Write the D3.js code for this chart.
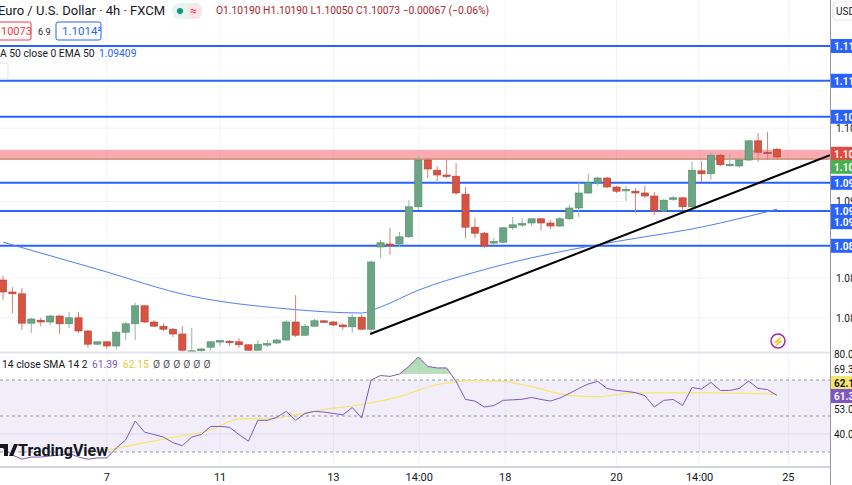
<!DOCTYPE html>
<html><head><meta charset="utf-8">
<script src="https://cdn.jsdelivr.net/npm/d3@7"></script>
<style>body{margin:0;background:#fff;font-family:Roboto,"Noto Sans",sans-serif}svg{display:block}</style>
</head><body>
<svg id="c" width="852" height="485"></svg>
<script>
const opens=[1.0825,1.0805,1.0802,1.0753,1.0758,1.0755,1.0765,1.0752,1.0762,1.0740,1.0718,1.0722,1.0715,1.0738,1.0752,1.0782,1.0755,1.0748,1.0743,1.0735,1.0705,1.0708,1.0713,1.0723,1.0723,1.0722,1.0717,1.0708,1.0718,1.0720,1.0725,1.0755,1.0733,1.0748,1.0757,1.0755,1.0750,1.0747,1.0763,1.0743,1.0880,1.0885,1.0885,1.0897,1.0947,1.1025,1.1008,1.1000,1.0998,1.0968,1.0913,1.0903,1.0888,1.0888,1.0912,1.0918,1.0920,1.0927,1.0920,1.0915,1.0927,1.0945,1.0970,1.0987,1.0995,1.0980,1.0975,1.0973,1.0970,1.0965,1.0940,1.0960,1.0962,1.0947,1.1007,1.1002,1.1033,1.1017,1.1015,1.1025,1.1057,1.1038,1.1043];
const closes=[1.0805,1.0802,1.0753,1.0760,1.0755,1.0765,1.0752,1.0762,1.0740,1.0718,1.0722,1.0715,1.0738,1.0752,1.0782,1.0755,1.0748,1.0743,1.0735,1.0708,1.0707,1.0710,1.0722,1.0724,1.0722,1.0717,1.0708,1.0718,1.0719,1.0725,1.0755,1.0733,1.0748,1.0757,1.0755,1.0750,1.0747,1.0763,1.0743,1.0855,1.0887,1.0883,1.0897,1.0947,1.1025,1.1010,1.1000,1.0998,1.0970,1.0913,1.0903,1.0882,1.0889,1.0912,1.0917,1.0919,1.0927,1.0920,1.0915,1.0927,1.0945,1.0970,1.0987,1.0995,1.0980,1.0973,1.0976,1.0970,1.0965,1.0940,1.0958,1.0962,1.0947,1.1008,1.1002,1.1033,1.1017,1.1018,1.1025,1.1057,1.1038,1.1037,1.1030];
const highs=[1.0832,1.0813,1.0812,1.0762,1.0762,1.0767,1.0767,1.0772,1.0772,1.0742,1.0723,1.0723,1.0740,1.0755,1.0787,1.0783,1.0758,1.0753,1.0745,1.0748,1.0745,1.0712,1.0723,1.0725,1.0725,1.0728,1.0718,1.0725,1.0725,1.0727,1.0758,1.0800,1.0752,1.0760,1.0758,1.0757,1.0752,1.0768,1.0768,1.0858,1.0892,1.0912,1.0905,1.0958,1.1032,1.1028,1.1015,1.1025,1.1020,1.0980,1.0928,1.0905,1.0895,1.0913,1.0930,1.0928,1.0928,1.0928,1.0925,1.0930,1.0950,1.0988,1.1002,1.0997,1.0997,1.0982,1.0982,1.0978,1.0982,1.0972,1.0960,1.0965,1.0963,1.1023,1.1023,1.1037,1.1035,1.1035,1.1028,1.1058,1.1070,1.1072,1.1045];
const lows=[1.0792,1.0770,1.0742,1.0737,1.0748,1.0750,1.0735,1.0745,1.0737,1.0712,1.0717,1.0710,1.0710,1.0725,1.0725,1.0753,1.0747,1.0740,1.0730,1.0707,1.0700,1.0705,1.0707,1.0715,1.0715,1.0712,1.0707,1.0707,1.0713,1.0718,1.0723,1.0730,1.0732,1.0747,1.0753,1.0748,1.0742,1.0737,1.0742,1.0738,1.0862,1.0867,1.0880,1.0895,1.0942,1.0995,1.0990,1.0995,1.0967,1.0895,1.0895,1.0878,1.0883,1.0887,1.0908,1.0913,1.0915,1.0908,1.0910,1.0913,1.0925,1.0930,1.0968,1.0982,1.0978,1.0970,1.0957,1.0937,1.0962,1.0933,1.0938,1.0957,1.0942,1.0945,1.0988,1.0992,1.1015,1.1013,1.1012,1.1023,1.1022,1.1025,1.1025];
const emaIdx=[0,10,20,30,38,40,44,50,56,62,68,73,76,82];
const emaVal=[1.0888,1.0843,1.0798,1.0777,1.0770,1.0780,1.0808,1.0838,1.0862,1.0881,1.0897,1.0910,1.0920,1.0943];
const levels=[1.1215,1.1157,1.1097,1.0987,1.0940,1.0882];
const levelLabels=["1.11","1.11","1.10","1.09","1.09","1.08"];
const zone=[1.1025,1.1042];
const trendIdx=[38.9,87.6], trendVal=[1.0735,1.1033];
const priceTicks=[1.1078,1.0956,1.0828,1.0762];
const priceTickLabels=["1.10","1.09","1.08","1.08"];
const rsi=[32.2,28.3,26,27.2,27.2,27.8,28.3,29.2,27.2,26,26.7,26.7,32.2,36.7,47.2,41,39.7,38.3,35.2,33.5,38.3,39.7,44.2,44.2,43.7,39.7,36,47.6,47.6,49.2,52.6,47.6,51.4,52.6,52.2,51.4,50.6,54.7,48.9,70,72.5,72,73.3,77.5,82.8,77.5,76.7,76.7,69.2,59.2,58.3,55,55.8,58.7,59,59.3,60.3,59.2,58.3,60,62.5,65.3,67.8,69.2,65.3,64.2,63.7,63,61.3,55,58.7,59.2,55.8,65.8,65,68.7,64.2,64.2,65.3,69.4,65.3,64.7,61.4];
const smaIdx=[11,17,22,25,28,31,34,38,42,46,50,53,56,60,63,67,75,82];
const smaVal=[31.1,37.2,42.2,48.4,48.6,50.6,53.6,56.4,60.8,67.5,69.7,69.2,66.3,61.5,60.8,62.8,62.8,62.15];
const rsiTicks=[80,69.3,53,40];
const rsiTickLabels=["80.0","69.3","53.0","40.0"];
const xTickIdx=[11,23,35,44.1,53.2,65,73.8,83.2];
const xTickLabels=["7","11","13","14:00","18","20","14:00","25"];

const svg=d3.select("#c");
const W=830;
const x=d3.scaleLinear().domain([0,82]).range([3,777]);
const y=d3.scaleLinear().domain([1.1,1.1100]).range([175,115]);
const ry=d3.scaleLinear().domain([30,80]).range([452,362]);
const GREEN="#6ba583", RED="#d75442", BLUE="#2962ff";

const g=svg.append("g");
xTickIdx.forEach(i=>g.append("line").attr("x1",x(i)).attr("x2",x(i)).attr("y1",0).attr("y2",467).attr("stroke","#f0f3fa"));
priceTicks.forEach(p=>g.append("line").attr("x1",0).attr("x2",W).attr("y1",y(p)).attr("y2",y(p)).attr("stroke","#f0f3fa"));
g.append("line").attr("x1",0).attr("x2",W).attr("y1",ry(40)).attr("y2",ry(40)).attr("stroke","#ebe8f3");

svg.append("defs").html('<clipPath id="mc"><rect x="0" y="0" width="830" height="352"/></clipPath><clipPath id="rc"><rect x="0" y="353" width="830" height="114"/></clipPath><clipPath id="ob"><rect x="0" y="340" width="830" height="34"/></clipPath><linearGradient id="gg" x1="0" y1="0" x2="0" y2="1"><stop offset="0" stop-color="#4caf50" stop-opacity="0.45"/><stop offset="1" stop-color="#4caf50" stop-opacity="0.05"/></linearGradient>');
const m=svg.append("g").attr("clip-path","url(#mc)");

m.append("rect").attr("x",0).attr("width",W).attr("y",y(zone[1])).attr("height",y(zone[0])-y(zone[1])).attr("fill","rgba(242,54,69,0.42)");
m.append("line").attr("x1",0).attr("x2",W).attr("y1",y(zone[0])-1).attr("y2",y(zone[0])-1).attr("stroke","#a08a4a").attr("stroke-width",1.2).attr("opacity",0.8);
levels.forEach(p=>m.append("line").attr("x1",0).attr("x2",W).attr("y1",y(p)).attr("y2",y(p)).attr("stroke",BLUE).attr("stroke-width",2));
const emaPts=emaIdx.map((i,k)=>[i,emaVal[k]]);
m.append("path").attr("d",d3.line().x(d=>x(d[0])).y(d=>y(d[1])).curve(d3.curveMonotoneX)(emaPts)).attr("fill","none").attr("stroke","#4f7ff5").attr("stroke-width",1);
const cg=m.append("g");
opens.forEach((o,i)=>{
  const c=closes[i], up=c>=o, col=up?GREEN:RED, stroke=up?"#4f8a68":"#b8402f";
  cg.append("line").attr("x1",x(i)).attr("x2",x(i)).attr("y1",y(highs[i])).attr("y2",y(lows[i])).attr("stroke",up?"#8fb9a0":"#d0837a").attr("stroke-width",1);
  const top=y(Math.max(o,c)), h=Math.max(1.5,Math.abs(y(o)-y(c)));
  cg.append("rect").attr("x",x(i)-3.6).attr("width",7.2).attr("y",top).attr("height",h).attr("fill",col).attr("stroke",stroke).attr("stroke-width",0.6);
});
m.append("line").attr("x1",x(trendIdx[0])).attr("y1",y(trendVal[0])).attr("x2",x(trendIdx[1])).attr("y2",y(trendVal[1])).attr("stroke","#000").attr("stroke-width",2);

svg.append("line").attr("x1",0).attr("x2",W).attr("y1",352.5).attr("y2",352.5).attr("stroke","#e0e3eb").attr("stroke-width",2);
svg.append("rect").attr("x",0).attr("width",W).attr("y",ry(70)).attr("height",ry(30)-ry(70)).attr("fill","rgba(126,87,194,0.1)");
[70,50,30].forEach(v=>svg.append("line").attr("x1",0).attr("x2",W).attr("y1",ry(v)).attr("y2",ry(v)).attr("stroke","#9598a1").attr("stroke-dasharray","3,3").attr("stroke-width",1));
const rg=svg.append("g").attr("clip-path","url(#rc)");
rg.append("path").attr("clip-path","url(#ob)").attr("d",d3.area().x((d,i)=>x(i)).y0(ry(70)).y1(d=>ry(d))(rsi)).attr("fill","url(#gg)");
rg.append("path").attr("d",d3.line().x(d=>x(d[0])).y(d=>ry(d[1])).curve(d3.curveMonotoneX)(smaIdx.map((i,k)=>[i,smaVal[k]]))).attr("fill","none").attr("stroke","#f5e56b").attr("stroke-width",1.2);
rg.append("path").attr("d",d3.line().x((d,i)=>x(i)).y(d=>ry(d))(rsi)).attr("fill","none").attr("stroke","#7e57c2").attr("stroke-width",1);

svg.append("line").attr("x1",0).attr("x2",W).attr("y1",467).attr("y2",467).attr("stroke","#d1d4dc").attr("stroke-width",2);
xTickIdx.forEach((i,k)=>svg.append("text").attr("x",x(i)).attr("y",481).attr("text-anchor","middle").attr("font-size",11).attr("fill","#131722").text(xTickLabels[k]));
svg.append("line").attr("x1",830.5).attr("x2",830.5).attr("y1",0).attr("y2",485).attr("stroke","#9598a1").attr("stroke-width",1);

const ax=svg.append("g").attr("font-size",10);
priceTicks.forEach((p,k)=>ax.append("text").attr("x",836).attr("y",y(p)+4).attr("fill","#131722").text(priceTickLabels[k]));
function box(yc,fill,txt,tc){ax.append("rect").attr("x",831).attr("y",yc-7).attr("width",30).attr("height",14).attr("fill",fill);
  ax.append("text").attr("x",834).attr("y",yc+4).attr("fill",tc||"#fff").attr("font-weight","bold").text(txt);}
levels.forEach((p,k)=>box(y(p),BLUE,levelLabels[k]));
box(y(zone[1])+4,"#e04a3f","1.10");
box(y(zone[1])+17,"#4caf50","1.10");
box(y(emaVal[emaVal.length-1])+13,BLUE,"1.09");
const rsiLabelShift=[-4,-8,2,4];
rsiTicks.forEach((v,k)=>ax.append("text").attr("x",834).attr("y",ry(v)+rsiLabelShift[k]).attr("fill","#131722").text(rsiTickLabels[k]));
box(383,"#f5e56b","62.1","#131722");
box(396,"#7e57c2","61.3");
ax.append("rect").attr("x",833).attr("y",2).attr("width",24).attr("height",18).attr("rx",3).attr("fill","#fff").attr("stroke","#e0e3eb");
ax.append("text").attr("x",836).attr("y",15).attr("fill","#131722").text("USD");

const hd=svg.append("g");
hd.append("text").attr("x",-2).attr("y",15).attr("fill","#131722").attr("font-size",13).text("Euro / U.S. Dollar · 4h · FXCM");
hd.append("rect").attr("x",172).attr("y",3).attr("width",30).attr("height",16).attr("rx",8).attr("fill","#e8f4ef");
hd.append("rect").attr("x",188).attr("y",3).attr("width",14).attr("height",16).attr("rx",6).attr("fill","#fde4e6");
hd.append("circle").attr("cx",180).attr("cy",11).attr("r",3).attr("fill","#089981");
hd.append("text").attr("x",190).attr("y",15).attr("fill","#f23645").attr("font-size",12).text("≈");
hd.append("text").attr("x",216).attr("y",14).attr("fill","#a4262c").attr("font-size",10.3).text("O1.10190 H1.10190 L1.10050 C1.10073 −0.00067 (−0.06%)");
hd.append("rect").attr("x",-4).attr("y",22).attr("width",35).attr("height",18).attr("rx",2).attr("fill","#fff").attr("stroke","#f23645");
hd.append("text").attr("x",1).attr("y",35).attr("fill","#f23645").attr("font-size",11).text("10073");
hd.append("text").attr("x",38).attr("y",35).attr("fill","#131722").attr("font-size",9).text("6.9");
hd.append("rect").attr("x",56).attr("y",22).attr("width",45).attr("height",18).attr("rx",2).attr("fill","#fff").attr("stroke",BLUE);
hd.append("text").attr("x",62).attr("y",35).attr("fill",BLUE).attr("font-size",11.5).text("1.1014²");
hd.append("text").attr("x",0).attr("y",57).attr("fill","#131722").attr("font-size",10.3).text("A 50 close 0 EMA 50");
hd.append("text").attr("x",99).attr("y",57).attr("fill",BLUE).attr("font-size",10.3).text("1.09409");
hd.append("rect").attr("x",-4).attr("y",63).attr("width",12).attr("height",16).attr("rx",2).attr("fill","#fff").attr("stroke","#e0e3eb");
hd.append("text").attr("x",2).attr("y",368).attr("fill","#131722").attr("font-size",10.3).text("14 close SMA 14 2");
hd.append("text").attr("x",92).attr("y",368).attr("fill","#7e57c2").attr("font-size",10.3).text("61.39");
hd.append("text").attr("x",123).attr("y",368).attr("fill","#e8c93a").attr("font-size",10.3).text("62.15");
hd.append("text").attr("x",153).attr("y",368).attr("fill","#555").attr("font-size",10.3).attr("letter-spacing","3").text("ØØØØØØ");
svg.append("circle").attr("cx",778).attr("cy",341).attr("r",7).attr("fill","#fff").attr("stroke","#9c27b0").attr("stroke-width",1.5);
svg.append("text").attr("x",778).attr("y",345).attr("text-anchor","middle").attr("fill","#9c27b0").attr("font-size",10).text("⚡");
svg.append("path").attr("d","M0,444 h8 v12 h-4 v-8 h-4 Z M9,456 l5,-12 h4 l-5,12 Z").attr("fill","#131722");
svg.append("text").attr("x",18).attr("y",456).attr("font-size",16).attr("font-weight","bold").attr("fill","#131722").text("TradingView");
</script></body></html>
